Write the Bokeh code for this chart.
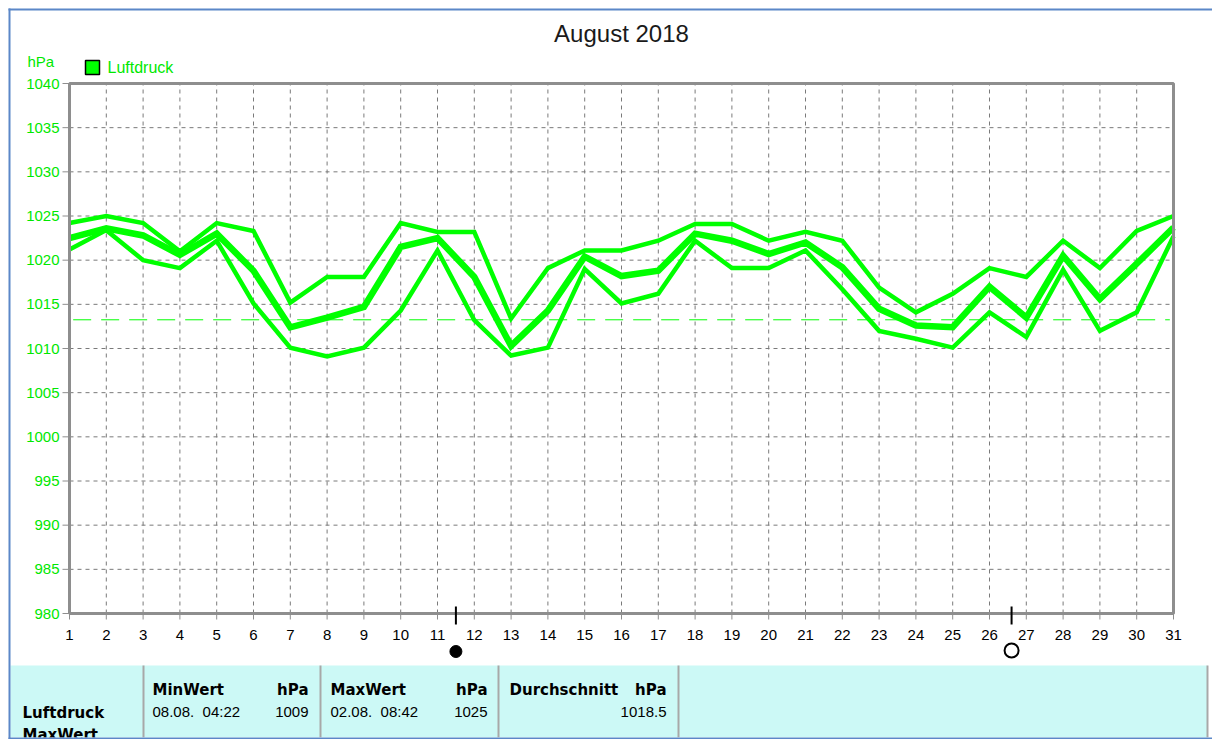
from bokeh.plotting import figure
from bokeh.models import Range1d
from bokeh.embed import file_html
from bokeh.resources import INLINE
from bokeh.core.properties import value

# ---------------- data ----------------
days = list(range(1, 32))
pressure_max = [1024.2, 1025.0, 1024.2, 1021.0, 1024.2, 1023.3, 1015.2, 1018.1,
                1018.1, 1024.2, 1023.2, 1023.2, 1013.4, 1019.1, 1021.1, 1021.1,
                1022.2, 1024.1, 1024.1, 1022.2, 1023.2, 1022.2, 1016.9, 1014.1,
                1016.2, 1019.1, 1018.1, 1022.2, 1019.1, 1023.3, 1025.0]
pressure_mean = [1022.5, 1023.6, 1022.8, 1020.6, 1023.0, 1018.8, 1012.4, 1013.5,
                 1014.7, 1021.5, 1022.5, 1018.1, 1010.3, 1014.3, 1020.4, 1018.2,
                 1018.8, 1023.0, 1022.2, 1020.7, 1022.0, 1019.2, 1014.5, 1012.6,
                 1012.4, 1017.0, 1013.5, 1020.5, 1015.6, 1019.6, 1023.7]
pressure_min = [1021.2, 1023.4, 1020.0, 1019.1, 1022.2, 1015.1, 1010.1, 1009.1,
                1010.1, 1014.3, 1021.1, 1013.2, 1009.2, 1010.1, 1019.0, 1015.1,
                1016.2, 1022.2, 1019.1, 1019.1, 1021.1, 1016.7, 1012.0, 1011.1,
                1010.1, 1014.1, 1011.3, 1018.9, 1012.0, 1014.1, 1022.7]
y_ticks = list(range(980, 1041, 5))
y_min, y_max = 980, 1040
reference_level = 1013.25
new_moon_days = [11.5]
full_moon_days = [26.6]
title_text = "August 2018"
unit_text = "hPa"
series_name = "Luftdruck"
table_row_labels = ["Luftdruck", "MaxWert"]
table_headers = ["MinWert", "MaxWert", "Durchschnitt"]
table_units = ["hPa", "hPa", "hPa"]
table_times = ["08.08.\u00a0\u00a004:22", "02.08.\u00a0\u00a008:42"]
table_values = ["1009", "1025", "1018.5"]

# ---------------- layout (pixels) & styles ----------------
W, H = 1212, 739
PL, PR, PT, PB = 69, 1173, 83, 613          # plot area edges
GREEN = "#00FF00"
TEXT_GREEN = "#00E800"
FRAME_GRAY = "#8E8E8E"
GRID_GRAY = "#7A7A7A"
BLUE = "#5B87C8"
CYAN = "#CCF9F6"
FONT = "Liberation Sans"

xs = (PR - PL) / (days[-1] - days[0])        # px per day
ys = (PB - PT) / (y_max - y_min)             # px per hPa
x_range = Range1d(days[0] - PL / xs, days[-1] + (W - PR) / xs)
y_range = Range1d(y_min - (H - PB) / ys, y_max + PT / ys)

p = figure(width=W, height=H, x_range=x_range, y_range=y_range,
           output_backend="svg", toolbar_location=None,
           x_axis_location=None, y_axis_location=None, min_border=0,
           background_fill_color="white", border_fill_color="white")
p.outline_line_color = None
p.grid.visible = False
p.extra_x_ranges = {"px": Range1d(0, W)}
p.extra_y_ranges = {"px": Range1d(H, 0)}
PX = dict(x_range_name="px", y_range_name="px")
PXX = dict(x_range_name="px")
PXY = dict(y_range_name="px")

# ---- summary table background (bottom band) ----
p.quad(left=[10], right=[1207], top=[665], bottom=[737], fill_color=CYAN,
       line_color=None, **PX)
sep_x = [143, 320, 498, 678, 1207]
p.segment(x0=sep_x, y0=[665] * 5, x1=sep_x, y1=[737] * 5,
          line_color="#A8A8A8", line_width=2, **PX)

# ---- grid ----
inner_days = days[1:-1]
inner_ticks = y_ticks[1:-1]
p.segment(x0=inner_days, y0=[y_min] * len(inner_days), x1=inner_days,
          y1=[y_max] * len(inner_days), line_color=GRID_GRAY, line_width=1,
          line_dash="4 4")
p.segment(x0=[days[0]] * len(inner_ticks), y0=inner_ticks,
          x1=[days[-1]] * len(inner_ticks), y1=inner_ticks,
          line_color=GRID_GRAY, line_width=1, line_dash="4 4")

# ---- reference level (dashed) ----
p.segment(x0=[days[0] + 0.1], y0=[reference_level], x1=[days[-1] - 0.1],
          y1=[reference_level], line_color=GREEN, line_width=1, line_dash="18 10")

# ---- data lines ----
p.line(days, pressure_max, line_color=GREEN, line_width=4.5, line_join="miter")
p.line(days, pressure_min, line_color=GREEN, line_width=4.5, line_join="miter")
p.line(days, pressure_mean, line_color=GREEN, line_width=6.5, line_join="miter")

# ---- plot frame ----
p.quad(left=[days[0]], right=[days[-1]], bottom=[y_min], top=[y_max],
       fill_color=None, line_color=FRAME_GRAY, line_width=3)

# ---- y axis: ticks and labels ----
p.segment(x0=[PL - 7] * len(y_ticks), y0=y_ticks, x1=[PL] * len(y_ticks),
          y1=y_ticks, line_color=FRAME_GRAY, line_width=1, **PXX)
p.text(x=[PL - 10] * len(y_ticks), y=y_ticks, text=[str(v) for v in y_ticks],
       text_align="right", text_baseline="middle", text_font=value(FONT),
       text_font_size=value("15px"), text_color=TEXT_GREEN, **PXX)

# ---- x axis: ticks and labels ----
p.segment(x0=days, y0=[PB] * len(days), x1=days, y1=[PB + 6] * len(days),
          line_color=FRAME_GRAY, line_width=1, **PXY)
p.text(x=days, y=[PB + 21] * len(days), text=[str(d) for d in days],
       text_align="center", text_baseline="middle", text_font=value(FONT),
       text_font_size=value("15px"), text_color="black", **PXY)

# ---- moon phase markers ----
moon_days = new_moon_days + full_moon_days
p.segment(x0=moon_days, y0=[PB - 7] * 2, x1=moon_days, y1=[PB + 11] * 2,
          line_color="black", line_width=2, **PXY)
p.scatter(x=new_moon_days, y=[PB + 38], marker="circle", size=12,
          fill_color="black", line_color="black", **PXY)
p.scatter(x=full_moon_days, y=[PB + 37], marker="circle", size=14,
          fill_color="white", line_color="black", line_width=2, **PXY)

# ---- title, unit, legend ----
p.text(x=[(PL + PR) / 2], y=[33], text=[title_text], text_align="center",
       text_baseline="middle", text_font=value(FONT),
       text_font_size=value("24px"), text_color="#1A1A1A", **PX)
p.text(x=[27], y=[61], text=[unit_text], text_align="left",
       text_baseline="middle", text_font=value(FONT),
       text_font_size=value("15px"), text_color=TEXT_GREEN, **PX)
p.quad(left=[85], right=[99], top=[60], bottom=[74], fill_color=GREEN,
       line_color="black", line_width=1.5, **PX)
p.text(x=[107], y=[67], text=[series_name], text_align="left",
       text_baseline="middle", text_font=value(FONT),
       text_font_size=value("16px"), text_color=TEXT_GREEN, **PX)

# ---- summary table texts ----
bold = dict(text_font=value("DejaVu Sans"), text_font_style="bold",
            text_font_size=value("15px"), text_baseline="middle",
            text_color="black")
norm = dict(text_font=value(FONT), text_font_size=value("15px"),
            text_baseline="middle", text_color="black")
p.text(x=[22, 22], y=[712, 734], text=table_row_labels, text_align="left",
       **bold, **PX)
p.text(x=[152, 330, 509], y=[689] * 3, text=table_headers, text_align="left",
       **bold, **PX)
p.text(x=[308, 487, 666], y=[689] * 3, text=table_units, text_align="right",
       **bold, **PX)
p.text(x=[152, 330], y=[711] * 2, text=table_times, text_align="left",
       **norm, **PX)
p.text(x=[308, 487, 666], y=[711] * 3, text=table_values, text_align="right",
       **norm, **PX)

# ---- outer window frame (blue) ----
p.quad(left=[0], right=[W], top=[737], bottom=[H], fill_color="white",
       line_color=None, **PX)
p.segment(x0=[8, 8, 9], y0=[9, 738, 8], x1=[W, W, 9], y1=[9, 738, 739],
          line_color=BLUE, line_width=2, **PX)

open("out.html", "w").write(file_html(p, INLINE))
